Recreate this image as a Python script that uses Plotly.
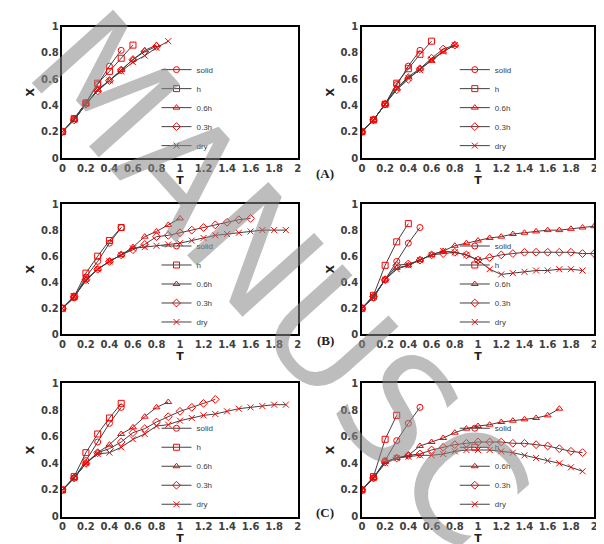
import plotly.graph_objects as go

names = ["solid", "h", "0.6h", "0.3h", "dry"]
symbols = ["circle-open", "square-open", "triangle-up-open", "diamond-open", "x-thin-open"]
t_ticks = [0, 0.2, 0.4, 0.6, 0.8, 1, 1.2, 1.4, 1.6, 1.8, 2]
x_ticks = [0, 0.2, 0.4, 0.6, 0.8, 1]

# panel data: lists of X values at T = 0, 0.1, 0.2, ...
a_left = [
    [0.2, 0.3, 0.42, 0.56, 0.70, 0.82],
    [0.2, 0.3, 0.42, 0.57, 0.66, 0.76, 0.86],
    [0.2, 0.29, 0.41, 0.52, 0.59, 0.67, 0.75, 0.82, 0.86],
    [0.2, 0.29, 0.41, 0.51, 0.59, 0.67, 0.75, 0.81, 0.85],
    [0.2, 0.29, 0.41, 0.52, 0.59, 0.66, 0.73, 0.78, 0.84, 0.89],
]
a_right = [
    [0.2, 0.29, 0.41, 0.56, 0.70, 0.82],
    [0.2, 0.29, 0.41, 0.57, 0.68, 0.79, 0.89],
    [0.2, 0.29, 0.41, 0.53, 0.62, 0.68, 0.74, 0.81, 0.86],
    [0.2, 0.29, 0.41, 0.52, 0.60, 0.68, 0.76, 0.83, 0.86],
    [0.2, 0.29, 0.41, 0.53, 0.61, 0.67, 0.75, 0.81, 0.86],
]
b_left = [
    [0.2, 0.28, 0.44, 0.56, 0.70, 0.82],
    [0.2, 0.29, 0.47, 0.60, 0.72, 0.82],
    [0.2, 0.29, 0.42, 0.50, 0.56, 0.61, 0.67, 0.75, 0.79, 0.84, 0.89],
    [0.2, 0.29, 0.42, 0.50, 0.56, 0.61, 0.65, 0.69, 0.75, 0.76, 0.78, 0.80, 0.82, 0.84, 0.86, 0.88, 0.89],
    [0.2, 0.29, 0.41, 0.50, 0.56, 0.61, 0.66, 0.67, 0.68, 0.69, 0.70, 0.72, 0.74, 0.76, 0.77, 0.78, 0.79, 0.80, 0.80, 0.80],
]
b_right = [
    [0.2, 0.28, 0.42, 0.56, 0.70, 0.82],
    [0.2, 0.30, 0.53, 0.71, 0.85],
    [0.2, 0.29, 0.42, 0.51, 0.53, 0.57, 0.61, 0.64, 0.68, 0.70, 0.72, 0.74, 0.75, 0.77, 0.78, 0.79, 0.80, 0.80, 0.81, 0.82, 0.83],
    [0.2, 0.29, 0.42, 0.53, 0.54, 0.57, 0.61, 0.62, 0.63, 0.61, 0.57, 0.59, 0.61, 0.62, 0.63, 0.63, 0.63, 0.63, 0.63, 0.62, 0.62],
    [0.2, 0.29, 0.42, 0.50, 0.53, 0.57, 0.61, 0.64, 0.63, 0.61, 0.57, 0.50, 0.46, 0.47, 0.48, 0.49, 0.49, 0.50, 0.50, 0.49],
]
c_left = [
    [0.2, 0.29, 0.42, 0.56, 0.70, 0.82],
    [0.2, 0.30, 0.48, 0.62, 0.74, 0.85],
    [0.2, 0.29, 0.40, 0.48, 0.54, 0.62, 0.67, 0.75, 0.82, 0.86],
    [0.2, 0.29, 0.40, 0.48, 0.51, 0.56, 0.63, 0.66, 0.71, 0.75, 0.79, 0.82, 0.85, 0.88],
    [0.2, 0.29, 0.40, 0.47, 0.48, 0.52, 0.58, 0.62, 0.68, 0.69, 0.72, 0.74, 0.76, 0.77, 0.79, 0.81, 0.82, 0.83, 0.84, 0.84],
]
c_right = [
    [0.2, 0.29, 0.42, 0.57, 0.70, 0.82],
    [0.2, 0.30, 0.58, 0.76],
    [0.2, 0.29, 0.41, 0.44, 0.46, 0.53, 0.56, 0.59, 0.63, 0.66, 0.68, 0.69, 0.71, 0.72, 0.73, 0.74, 0.76, 0.81],
    [0.2, 0.29, 0.41, 0.44, 0.46, 0.47, 0.50, 0.52, 0.54, 0.55, 0.56, 0.56, 0.56, 0.55, 0.55, 0.54, 0.53, 0.51, 0.49, 0.48],
    [0.2, 0.29, 0.40, 0.44, 0.45, 0.46, 0.46, 0.47, 0.49, 0.50, 0.50, 0.50, 0.49, 0.48, 0.46, 0.44, 0.42, 0.40, 0.37, 0.34],
]
panels = [a_left, a_right, b_left, b_right, c_left, c_right]
panel_labels = ["(A)", "(B)", "(C)"]

W, H = 604, 544
xdoms = [(52, 290), (355, 590)]
ydoms = [(14, 148), (195, 328), (378, 514)]

fig = go.Figure()
tickfont = dict(family="DejaVu Sans", size=10, color="#404040", weight="bold")
titlefont = dict(family="DejaVu Sans", size=11, color="#222", weight="bold")

for p, data in enumerate(panels):
    row, col = divmod(p, 2)
    n = p + 1
    sx = "" if n == 1 else str(n)
    x0, x1 = xdoms[col]
    yt, yb = ydoms[row]
    xd = [x0 / W, x1 / W]
    yd = [1 - yb / H, 1 - yt / H]
    leg = "legend" if n == 1 else "legend%d" % n
    for k, vals in enumerate(data):
        fig.add_trace(go.Scatter(
            x=[round(i * 0.1, 1) for i in range(len(vals))], y=vals,
            mode="lines+markers", name=names[k],
            line=dict(color="#404040", width=1),
            marker=dict(symbol=symbols[k], size=6, color="red", line=dict(color="red", width=1)),
            xaxis="x" + sx, yaxis="y" + sx, legend=leg,
        ))
    fig.update_layout(**{
        "xaxis" + sx: dict(domain=xd, range=[0, 2.0001], tickmode="array", tickvals=t_ticks,
                           ticktext=[str(v) for v in t_ticks], anchor="y" + sx,
                           showgrid=False, zeroline=False, showline=True, linecolor="black",
                           linewidth=1.5, mirror=True, tickfont=tickfont, ticks="",
                           title=dict(text="T", font=titlefont, standoff=0)),
        "yaxis" + sx: dict(domain=yd, range=[0, 1.0001], tickmode="array", tickvals=x_ticks,
                           ticktext=[str(v) for v in x_ticks], anchor="x" + sx,
                           showgrid=False, zeroline=False, showline=True, linecolor="black",
                           linewidth=1.5, mirror=True, tickfont=tickfont, ticks="",
                           title=dict(text="X", font=titlefont, standoff=4)),
        leg: dict(x=xd[0] + 0.40 * (xd[1] - xd[0]), y=yd[0] - 0.004,
                  xanchor="left", yanchor="bottom", bgcolor="rgba(0,0,0,0)",
                  font=dict(family="Arial, Liberation Sans", size=8, color="#404040"),
                  tracegroupgap=0, itemwidth=30),
    })

for r, lab in enumerate(panel_labels):
    yb = ydoms[r][1]
    fig.add_annotation(text="<b>%s</b>" % lab, x=318 / W, y=1 - (yb + 6) / H,
                       xref="paper", yref="paper", showarrow=False,
                       font=dict(family="Liberation Serif, DejaVu Serif", size=13, color="#222"))

# grey watermark
fig.add_annotation(text="MANUSC", x=0.45, y=0.5, xref="paper", yref="paper", showarrow=False,
                   textangle=48, opacity=0.55,
                   font=dict(family="DejaVu Sans", size=150, color="#888"))

fig.update_layout(width=W, height=H, margin=dict(l=0, r=0, t=0, b=0),
                  plot_bgcolor="white", paper_bgcolor="white")
fig.write_html("out.html")
